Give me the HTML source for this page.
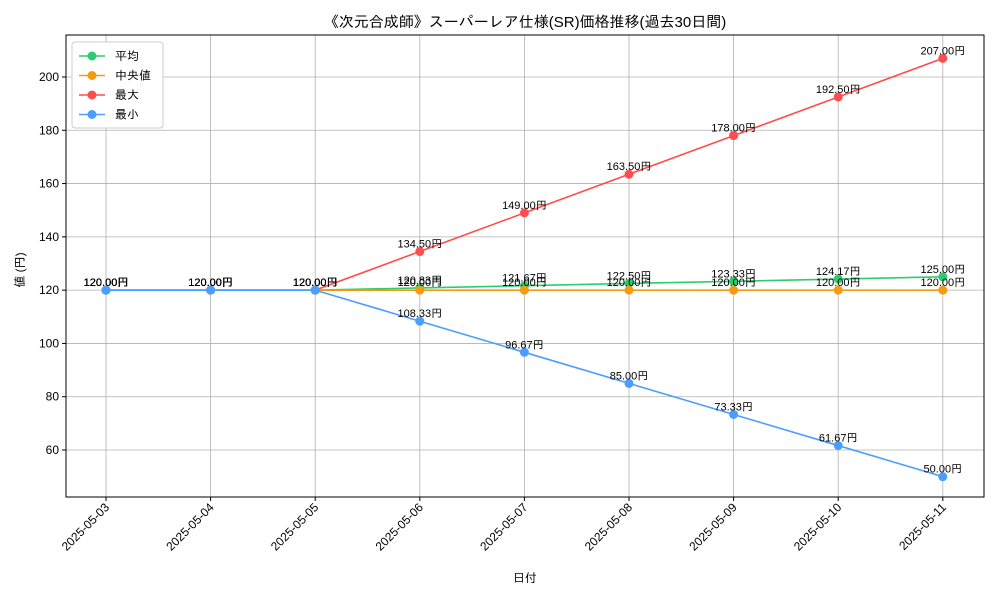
<!DOCTYPE html>
<html><head><meta charset="utf-8">
<style>
body{margin:0;background:#fff;}
svg text{font-family:"Liberation Sans","IPAGothic","Noto Sans CJK JP",sans-serif;}
</style></head>
<body>
<svg id="chart" width="1000" height="600" xmlns="http://www.w3.org/2000/svg">
<rect width="1000" height="600" fill="#fff"/>
<text x="525" y="27" text-anchor="middle" font-size="15">《次元合成師》スーパーレア仕様(SR)価格推移(過去30日間)</text>
<g id="grid"></g>
<g id="axes"></g>
<g id="series"></g>
<rect x="66" y="35" width="918" height="462" fill="none" stroke="#000" stroke-width="1"/>
<text x="525" y="582" text-anchor="middle" font-size="12">日付</text>
<text x="24" y="270" text-anchor="middle" font-size="12" transform="rotate(-90 24 270)">値 (円)</text>
<g id="legend"></g>
</svg>
<script>
const categories=["2025-05-03","2025-05-04","2025-05-05","2025-05-06","2025-05-07","2025-05-08","2025-05-09","2025-05-10","2025-05-11"];
const meanVals=[120,120,120,120.83,121.67,122.5,123.33,124.17,125];
const medianVals=[120,120,120,120,120,120,120,120,120];
const maxVals=[120,120,120,134.5,149,163.5,178,192.5,207];
const minVals=[120,120,120,108.33,96.67,85,73.33,61.67,50];
const yTicks=[60,80,100,120,140,160,180,200];
const seriesNames=["平均","中央値","最大","最小"];
const NS="http://www.w3.org/2000/svg";
function x(i){return 106+i*104.6;}
function y(v){return 450-(v-60)*2.6643;}
function mk(tag,attrs,parent){const e=document.createElementNS(NS,tag);for(const k in attrs)e.setAttribute(k,attrs[k]);parent.appendChild(e);return e;}
const grid=document.getElementById('grid'),axes=document.getElementById('axes'),ser=document.getElementById('series'),leg=document.getElementById('legend');
categories.forEach((c,i)=>{
  const l=mk('line',{x1:x(i),x2:x(i),y1:35,y2:497,stroke:'#b0b0b0','stroke-width':0.8},grid);
  
  
  const t=mk('line',{x1:x(i),x2:x(i),y1:497,y2:501,stroke:'#000'},axes);
  
  
  const tx=mk('text',{x:x(i)+4,y:508,'font-size':12,'text-anchor':'end',transform:`rotate(-45 ${x(i)+4} 508)`},axes);
  tx.textContent=c;
  
  
});
yTicks.forEach(v=>{
  const l=mk('line',{x1:66,x2:984,y1:y(v),y2:y(v),stroke:'#b0b0b0','stroke-width':0.8},grid);
  
  
  const t=mk('line',{x1:62,x2:66,y1:y(v),y2:y(v),stroke:'#000'},axes);
  
  
  const tx=mk('text',{x:59,y:y(v)+4,'font-size':12,'text-anchor':'end'},axes);
  tx.textContent=v;
  
  
});
const all=[[meanVals,'#2ecc71','mean'],[medianVals,'#f39c12','median'],[maxVals,'#ff4d4d','max'],[minVals,'#4a9eff','min']];
all.forEach(([vals,col,nm])=>{
  const g=mk('g',{},ser);
  
  
  const p=mk('polyline',{points:vals.map((v,i)=>x(i)+','+y(v)).join(' '),fill:'none',stroke:col,'stroke-width':1.6},g);
  
  
  vals.forEach((v,i)=>{
    const c=mk('circle',{cx:x(i),cy:y(v),r:4.5,fill:col},g);
    
    
  });
});
all.forEach(([vals,col,nm])=>{
  vals.forEach((v,i)=>{
    const t=mk('text',{x:x(i),y:y(v)-4,'font-size':11,'text-anchor':'middle',fill:'#000'},ser);
    t.textContent=v.toFixed(2)+'円';
    
    
  });
});
const lb=mk('rect',{x:72,y:42,width:91,height:86,fill:'#fff',stroke:'#ccc',rx:3},leg);


seriesNames.forEach((n,i)=>{
  const yy=56+i*19.5,col=all[i][1];
  const g=mk('g',{},leg);
  
  
  mk('line',{x1:79,x2:105,y1:yy,y2:yy,stroke:col,'stroke-width':1.6},g);
  mk('circle',{cx:92,cy:yy,r:4.5,fill:col},g);
  const t=mk('text',{x:115,y:yy+4,'font-size':12},g);
  t.textContent=n;
});
</script>
</body></html>
